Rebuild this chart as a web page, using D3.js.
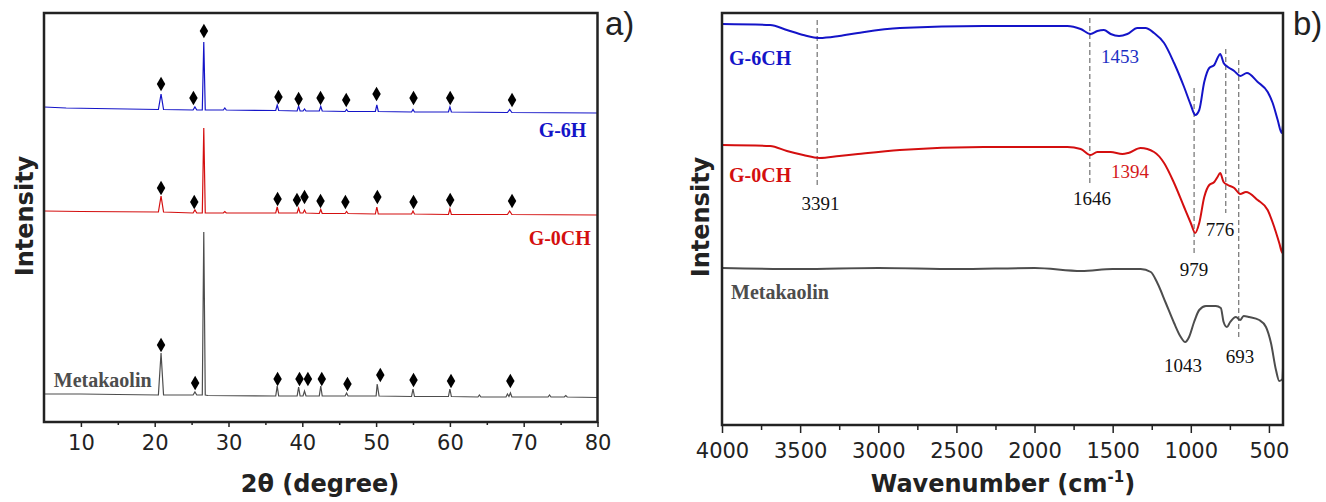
<!DOCTYPE html>
<html>
<head>
<meta charset="utf-8">
<script src="https://cdn.jsdelivr.net/npm/d3@7"></script>
<style>
body { margin: 0; background: #fff; }
</style>
</head>
<body>
<svg id="fig"></svg>
<script>
// ---------- XRD (panel a): [2theta, intensity a.u.] ----------
const xrdMetakaolin = [[5,28],[10,28],[15,27.5],[20.5,27],[20.86,69],[21.2,27],[25.2,27],[25.45,30],[25.7,27],[26.45,27],[26.65,190],[26.85,27],[27.2,26.5],
  [36.4,26],[36.6,36],[36.8,26],[39.3,26],[39.5,35],[39.7,26],[40.1,26],[40.3,31],[40.5,26],[42.3,26],[42.5,36],[42.7,26],
  [45.8,26],[46,29],[46.2,26],[50,26],[50.15,38],[50.4,26],[54.8,25.5],[55,33],[55.2,25.5],[59.8,25.5],[60,33],[60.2,25.5],
  [63.8,25],[64,27],[64.2,25],[67.6,25],[67.8,28],[68,25.5],[68.2,29],[68.4,25],[73.3,25],[73.5,27],[73.7,25],
  [75.5,25],[75.7,26.5],[75.9,25],[80,24.5]];
const xrdG0CH = [[5,211],[10,210.5],[20.5,210],[20.86,226],[21.2,210],[25.2,209],[25.45,212],[25.7,209],[26.45,209],[26.65,294],[26.85,209],
  [29.3,209],[29.5,210.5],[29.7,209],[36.4,209],[36.6,215],[36.8,209],[39.3,209],[39.5,214],[39.7,209],[40.1,209],[40.3,212],[40.5,209],
  [42.3,208.5],[42.5,212.5],[42.7,208.5],[45.8,208.5],[46,210.5],[46.2,208.5],[49.9,208],[50.1,215],[50.3,208],[54.8,208],[55,211],[55.2,208],
  [59.8,207.5],[60,213],[60.2,207.5],[67.8,207.5],[68.1,211],[68.4,207.5],[80,207]];
const xrdG6H = [[5,315],[8,314],[12,313.5],[20.5,312.5],[20.86,328],[21.2,312.5],[25.2,312],[25.45,315],[25.7,312],[26.45,312],[26.65,380],[26.85,312],
  [29.3,312],[29.5,314],[29.7,312],[36.4,311.5],[36.6,317],[36.8,311.5],[39.3,311],[39.5,316],[39.7,311],[40.1,311],[40.3,313],[40.5,311],
  [42.3,311],[42.5,315.5],[42.7,311],[45.8,310.5],[46,312.5],[46.2,310.5],[49.9,310.5],[50.1,317],[50.3,310.5],[54.8,310],[55,312.5],[55.2,310],
  [59.8,310],[60,315],[60.2,310],[67.8,309.5],[68.1,312.5],[68.4,309.5],[80,309]];

// quartz markers (diamonds)
const markMetakaolin = [[20.86,77],[25.48,39],[36.65,43],[39.62,43],[40.76,43],[42.64,43],[46.12,38],[50.57,47],[55.07,42],[60.15,41],[68.19,41]];
const markG0CH = [[20.86,234],[25.36,220],[36.65,223],[39.28,222],[40.3,225],[42.47,221],[45.84,220],[50.17,225],[55.07,220],[60.04,222],[68.42,221]];
const markG6H = [[20.86,338],[25.25,324],[26.67,391],[36.77,325],[39.5,323],[42.47,324],[45.95,322],[50.06,328],[55.07,324],[60.04,324],[68.42,322]];

const xrdMajorTicks = [10, 20, 30, 40, 50, 60, 70, 80];
const xrdMinorTicks = [15, 25, 35, 45, 55, 65, 75];

// ---------- FTIR (panel b): [wavenumber, transmittance a.u.] ----------
const ftirG6CH = [[4000,398],[3692,397],[3585,392],[3480,387],[3376,384],[3250,386],[3130,389],[2862,394],[2326,396],[1790,396],[1705,393],
  [1641,388],[1598,391],[1556,392],[1513,388],[1459,386],[1406,388],[1342,394],[1290,394],[1235,389],[1171,379],[1107,359],[1043,335],
  [1000,317],[972,307],[946,312],[914,340],[882,354],[850,357],[829,364],[812,368],[790,359],[763,355],[722,351],[684,346],[641,349],
  [572,340],[508,330],[476,319],[444,302],[418,289],[410,297]];
const ftirG0CH = [[4000,277],[3692,276],[3585,271],[3480,267],[3376,264],[3250,266],[3130,268],[2862,272],[2326,275],[1790,275],[1705,273],
  [1641,267],[1598,270],[1513,270],[1438,268],[1400,269],[1321,274],[1235,270],[1171,259],[1107,239],[1043,215],[1000,199],[972,189],
  [946,199],[914,225],[882,237],[850,240],[829,245],[812,249],[790,240],[763,237],[722,234],[684,228],[647,230],[572,222],[508,212],
  [466,195],[434,179],[414,169],[410,180]];
const ftirMetakaolin = [[4000,154],[3500,153],[3000,154],[2500,153],[2000,154],[1700,151],[1500,153],[1321,153],[1256,150],[1214,139],
  [1160,119],[1107,99],[1064,85],[1036,80],[1011,85],[979,100],[946,112],[903,116],[840,116],[808,114],[790,100],[769,95],[748,100],
  [711,105],[684,102],[662,106],[626,105],[562,102],[519,95],[487,79],[455,52],[434,41],[414,43],[410,54]];

const bandWn = [3391, 1646, 979, 776, 693];
const bandTop = [402, 404, 334, 373, 362];
const bandBottom = [237, 239, 169, 209, 84];

const bandLabel = ["3391", "1646", "1453", "1394", "776", "979", "1043", "693"];
const bandLabelWn = [3369, 1632, 1453, 1389, 813, 980, 1050, 685];
const bandLabelV = [212, 217, 359, 244, 186, 146, 50, 59];
const bandLabelColor = ["#111", "#111", "#1c2fc4", "#d41a1a", "#111", "#111", "#111", "#111"];

const ftirMajorTicks = [4000, 3500, 3000, 2500, 2000, 1500, 1000, 500];
const ftirMinorTicks = [3750, 3250, 2750, 2250, 1750, 1250, 750];

const BLUE = "#1414c8", RED = "#d40f0f", GREY = "#4d4d4d";

const svg = d3.select("#fig").attr("width", 1326).attr("height", 502);
svg.append("rect").attr("width", 1326).attr("height", 502).attr("fill", "#fff");

function drawAxis(scale, bottom, major, minor, majorLen, minorLen, pad)
{
    svg.append("g")
        .attr("transform", `translate(0,${bottom})`)
        .call(d3.axisBottom(scale).tickValues(minor).tickSize(minorLen).tickFormat(""))
        .call(g => g.select(".domain").remove())
        .selectAll("line").attr("stroke", "#222").attr("stroke-width", 1.5);

    const ax = svg.append("g")
        .attr("transform", `translate(0,${bottom})`)
        .call(d3.axisBottom(scale).tickValues(major).tickSize(majorLen).tickPadding(pad).tickFormat(d3.format("d")));
    ax.select(".domain").remove();
    ax.selectAll("line").attr("stroke", "#222").attr("stroke-width", 1.5);
    ax.selectAll("text")
        .style("font-family", "'DejaVu Sans', sans-serif")
        .style("font-size", "21px")
        .attr("fill", "#222");
}

function frame(x0, x1, y0, y1)
{
    svg.append("rect")
        .attr("x", x0).attr("y", y0)
        .attr("width", x1 - x0).attr("height", y1 - y0)
        .attr("fill", "none").attr("stroke", "#222").attr("stroke-width", 2.5);
}

function label(x, y, txt, color, size, anchor, weight, family)
{
    return svg.append("text")
        .attr("x", x).attr("y", y)
        .attr("text-anchor", anchor)
        .style("font-family", family)
        .style("font-size", size + "px")
        .style("font-weight", weight)
        .attr("fill", color)
        .text(txt);
}

const SERIF = "'Liberation Serif', 'Times New Roman', serif";
const SANS = "'DejaVu Sans', sans-serif";

// ================= panel a) XRD =================
const xA = d3.scaleLinear().domain([5, 80]).range([44, 597.5]);
const yA = d3.scaleLinear().domain([0, 409]).range([422, 13]);

const lineA = d3.line().x(d => xA(d[0])).y(d => yA(d[1]));
const diamond = d3.symbol().type(d3.symbolDiamond).size(62);

[[xrdMetakaolin, markMetakaolin, GREY], [xrdG0CH, markG0CH, RED], [xrdG6H, markG6H, BLUE]].forEach(([pts, marks, col]) => {
    svg.append("path")
        .datum(pts)
        .attr("d", lineA)
        .attr("fill", "none")
        .attr("stroke", col)
        .attr("stroke-width", 1.2);

    svg.append("g").selectAll("path")
        .data(marks)
        .join("path")
        .attr("d", diamond)
        .attr("transform", d => `translate(${xA(d[0])},${yA(d[1])})`)
        .attr("fill", "#000");
});

frame(44, 597.5, 13, 422);
drawAxis(xA, 422, xrdMajorTicks, xrdMinorTicks, 5, 3, 8);

label(xA(78.5), yA(285), "G-6H", BLUE, 20, "end", "bold", SERIF);
label(xA(79.1), yA(177), "G-0CH", RED, 20, "end", "bold", SERIF);
label(xA(6.33), yA(35), "Metakaolin", GREY, 20, "start", "bold", SERIF);

label(320, 492, "2θ (degree)", "#222", 24, "middle", "bold", SANS);
label(0, 0, "Intensity", "#222", 24, "middle", "bold", SANS)
    .attr("transform", "translate(33,216) rotate(-90)");
label(605, 35, "a)", "#222", 33, "start", "normal", "'Liberation Sans', Arial, sans-serif");

// ================= panel b) FTIR =================
const xB = d3.scaleLinear().domain([4000, 410]).range([722, 1283]);
const yB = d3.scaleLinear().domain([-3, 409]).range([425, 13]);

const lineB = d3.line().x(d => xB(d[0])).y(d => yB(d[1])).curve(d3.curveMonotoneX);

// dashed band guides
svg.append("g").selectAll("line")
    .data(bandWn)
    .join("line")
    .attr("x1", d => xB(d)).attr("x2", d => xB(d))
    .attr("y1", (d, i) => yB(bandTop[i]))
    .attr("y2", (d, i) => yB(bandBottom[i]))
    .attr("stroke", "#555")
    .attr("stroke-width", 1)
    .attr("stroke-dasharray", "5 3");

[[ftirMetakaolin, GREY], [ftirG0CH, RED], [ftirG6CH, BLUE]].forEach(([pts, col]) => {
    svg.append("path")
        .datum(pts)
        .attr("d", lineB)
        .attr("fill", "none")
        .attr("stroke", col)
        .attr("stroke-width", 2);
});

bandLabel.forEach((t, i) => {
    label(xB(bandLabelWn[i]), yB(bandLabelV[i]), t, bandLabelColor[i], 19, "middle", "normal", SERIF);
});

frame(722, 1283, 13, 425);
drawAxis(xB, 425, ftirMajorTicks, ftirMinorTicks, 8, 5, 10);

label(xB(3955), yB(357), "G-6CH", BLUE, 20, "start", "bold", SERIF);
label(xB(3955), yB(240), "G-0CH", RED, 20, "start", "bold", SERIF);
label(xB(3942), yB(123), "Metakaolin", GREY, 20, "start", "bold", SERIF);

const wt = label(1003, 492, "Wavenumber (cm", "#222", 24, "middle", "bold", SANS);
wt.append("tspan").attr("dy", -10).style("font-size", "15px").text("-1");
wt.append("tspan").attr("dy", 10).text(")");

label(0, 0, "Intensity", "#222", 24, "middle", "bold", SANS)
    .attr("transform", "translate(709,217) rotate(-90)");
label(1293, 35, "b)", "#222", 33, "start", "normal", "'Liberation Sans', Arial, sans-serif");
</script>
</body>
</html>
